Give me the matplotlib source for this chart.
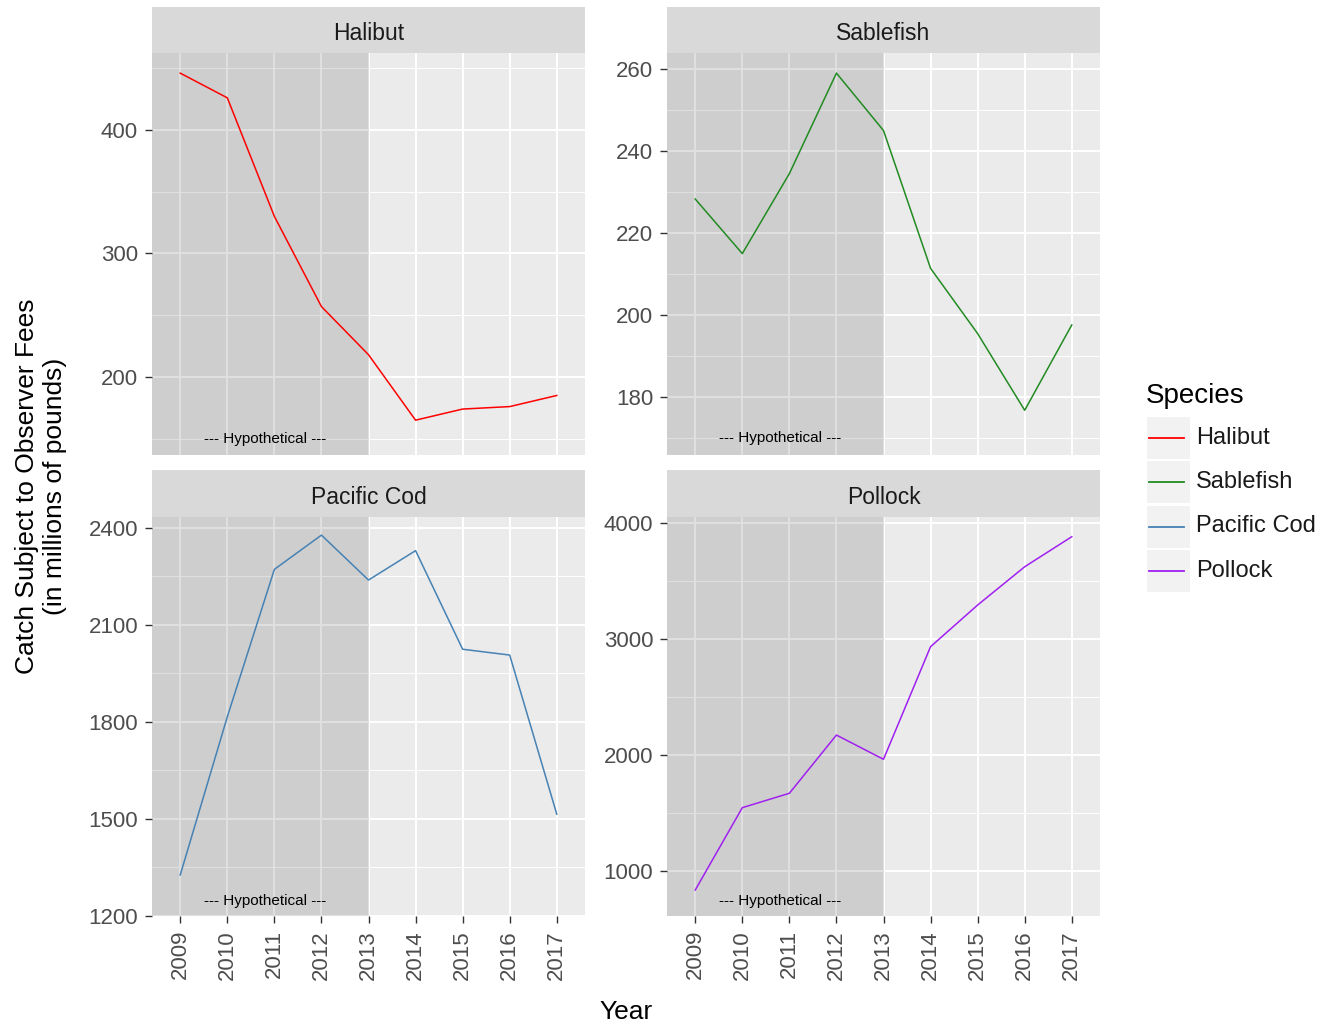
import matplotlib
matplotlib.use("Agg")
import matplotlib.pyplot as plt
from matplotlib.patches import Rectangle
from matplotlib.lines import Line2D

plt.rcParams['font.family'] = ['Liberation Sans', 'DejaVu Sans']

# data (millions of pounds)
years = [2009, 2010, 2011, 2012, 2013, 2014, 2015, 2016, 2017]
halibut = [446, 426, 330, 257, 218, 165, 174, 176, 185]
sablefish = [228.3, 215.0, 234.5, 259, 245, 211.4, 195.5, 176.8, 197.6]
pacific_cod = [1327, 1816, 2272, 2378, 2239, 2330, 2025, 2007, 1515]
pollock = [836, 1546, 1670, 2172, 1963, 2934, 3293, 3623, 3882]

species = ["Halibut", "Sablefish", "Pacific Cod", "Pollock"]
series = [halibut, sablefish, pacific_cod, pollock]
colors = ["#FF0000", "#228B22", "#4682B4", "#A020F0"]
y_ticks = [[200, 300, 400], [180, 200, 220, 240, 260],
           [1200, 1500, 1800, 2100, 2400], [1000, 2000, 3000, 4000]]
y_limits = [(136.8, 462.3), (165.9, 263.9), (1200, 2434), (612, 4052)]
hypo_y = [150, 170, 1246, 741]
hypo_end = 2013

W, H = 1333, 1027
fig = plt.figure(figsize=(W / 100, H / 100), dpi=100)


def box(x0, y0, x1, y1):
    # pixel box -> figure fraction
    return [x0 / W, 1 - y1 / H, (x1 - x0) / W, (y1 - y0) / H]


panel_px = [(152, 53, 585, 455), (667, 53, 1100, 455),
            (152, 517, 585, 916), (667, 517, 1100, 916)]
strip_px = [(152, 7, 585, 53), (667, 7, 1100, 53),
            (152, 470, 585, 517), (667, 470, 1100, 517)]
xlim = (years[0] - 0.6, years[-1] + 0.6)

for i, name in enumerate(species):
    ax = fig.add_axes(box(*panel_px[i]))
    ax.set_facecolor("#EBEBEB")
    ax.set_axisbelow(True)
    for s in ax.spines.values():
        s.set_visible(False)

    ax.set_xlim(*xlim)
    ax.set_ylim(*y_limits[i])
    ax.set_xticks(years)
    ax.set_yticks(y_ticks[i])
    step = y_ticks[i][1] - y_ticks[i][0]
    minors = [t - step / 2 for t in y_ticks[i]] + [y_ticks[i][-1] + step / 2]
    minors = [m for m in minors if y_limits[i][0] <= m <= y_limits[i][1]]
    ax.set_yticks(minors, minor=True)

    ax.grid(which='major', color='white', lw=1.4)
    ax.grid(which='minor', axis='y', color='white', lw=0.7)
    ax.tick_params(which='minor', length=0)
    ax.tick_params(which='major', length=5, width=1, color='#333333',
                   labelcolor='#4D4D4D', labelsize=16, pad=5)
    if i < 2:
        ax.tick_params(axis='x', length=0, labelbottom=False)
    else:
        ax.set_xticklabels([str(y) for y in years], rotation=90)

    ax.axvspan(xlim[0], hypo_end, color='black', alpha=0.12, lw=0, zorder=1)
    ax.plot(years, series[i], color=colors[i], lw=1.1, zorder=3)
    ax.text(2010.8, hypo_y[i], "--- Hypothetical ---", fontsize=11,
            color='black', ha='center', va='center', zorder=4)

    sax = fig.add_axes(box(*strip_px[i]))
    sax.set_facecolor("#D9D9D9")
    sax.set_xticks([])
    sax.set_yticks([])
    for s in sax.spines.values():
        s.set_visible(False)
    sax.text(0.5, 0.42, name, transform=sax.transAxes, ha='center',
             va='center', fontsize=16.5, color='#1A1A1A')

fig.text(41 / W, 1 - 486 / H,
         "Catch Subject to Observer Fees\n(in millions of pounds)",
         rotation=90, ha='center', va='center', fontsize=19,
         multialignment='center', color='black')
fig.text(626 / W, 1 - 1012 / H, "Year", ha='center', va='center',
         fontsize=19, color='black')

# legend drawn in pixel coordinates
lax = fig.add_axes([0, 0, 1, 1], zorder=-1)
lax.set_xlim(0, W)
lax.set_ylim(H, 0)
lax.axis('off')
lax.text(1146, 396, "Species", fontsize=20, ha='left', va='center')
for k, name in enumerate(species):
    top = 416.5 + k * 44.5
    lax.add_patch(Rectangle((1147, top), 43, 42, facecolor='#F2F2F2',
                            edgecolor='none'))
    lax.add_line(Line2D([1149, 1184], [top + 21, top + 21],
                        color=colors[k], lw=1.3))
    lax.text(1196, top + 21, name, fontsize=17, ha='left', va='center',
             color='#1A1A1A')

fig.savefig("out.png", dpi=100)
